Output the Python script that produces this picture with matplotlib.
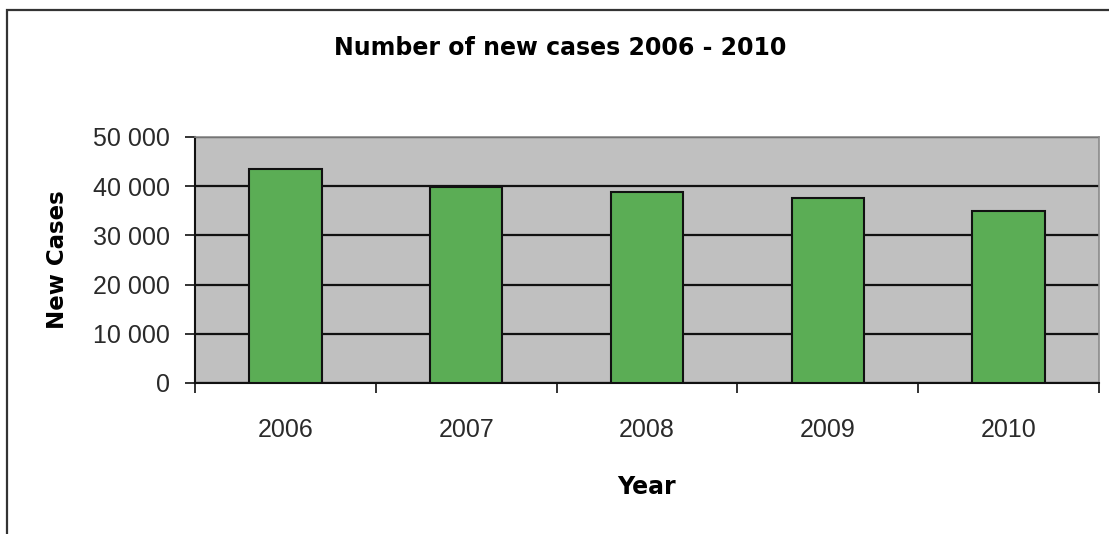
import matplotlib
matplotlib.use("Agg")
import matplotlib.pyplot as plt
from matplotlib.patches import Rectangle
from matplotlib.ticker import FuncFormatter, FixedLocator

years = ["2006", "2007", "2008", "2009", "2010"]
new_cases = [43450, 39900, 38830, 37700, 35060]
y_ticks = [0, 10000, 20000, 30000, 40000, 50000]

W, H = 1109, 534
fig = plt.figure(figsize=(W / 100, H / 100), dpi=100)
fig.patch.set_facecolor("white")

# outer chart frame
fig.patches.append(Rectangle((7 / W, -0.05), 1.2, (H - 10) / H + 0.05,
                             transform=fig.transFigure, fill=False,
                             edgecolor="#333333", linewidth=1.6))

ax = fig.add_axes([195 / W, (H - 383) / H, (1099 - 195) / W, (383 - 137) / H])
ax.set_facecolor("#C0C0C0")
x = list(range(len(years)))
ax.bar(x, new_cases, width=0.4, color="#5BAD55", edgecolor="#111111",
       linewidth=1.5, zorder=3)

ax.set_xlim(-0.5, len(years) - 0.5)
ax.set_ylim(0, 50000)
ax.yaxis.set_major_locator(FixedLocator(y_ticks))
ax.yaxis.set_major_formatter(FuncFormatter(lambda v, p: f"{int(v):,}".replace(",", " ")))
ax.grid(axis="y", color="#111111", linewidth=1.6, zorder=1)
ax.set_axisbelow(True)

ax.set_xticks(x)
ax.set_xticklabels(years)
ax.set_xticks([i - 0.5 for i in range(len(years) + 1)], minor=True)
ax.tick_params(axis="x", which="major", length=0, pad=25, labelsize=18, labelcolor="#2a2a2a")
ax.tick_params(axis="x", which="minor", length=7, width=1.2, direction="out", color="#111111")
ax.tick_params(axis="y", length=7, width=1.2, direction="out", color="#111111",
               labelsize=18, pad=11, labelcolor="#2a2a2a")
for lab in ax.get_xticklabels() + ax.get_yticklabels():
    lab.set_family("Liberation Sans")

for s in ["left", "bottom"]:
    ax.spines[s].set_color("#111111")
    ax.spines[s].set_linewidth(1.5)
for s in ["top", "right"]:
    ax.spines[s].set_color("#8a8a8a")
    ax.spines[s].set_linewidth(1.2)

fig.text(560 / W, 1 - 48 / H, "Number of new cases 2006 - 2010", ha="center", va="center",
         fontsize=17, fontweight="bold", family="DejaVu Sans")
fig.text(57 / W, 1 - 260 / H, "New Cases", ha="center", va="center", rotation=90,
         fontsize=16.5, fontweight="bold", family="DejaVu Sans")
fig.text(646 / W, 1 - 487 / H, "Year", ha="center", va="center",
         fontsize=17, fontweight="bold", family="DejaVu Sans")

fig.savefig("out.png", dpi=100)
